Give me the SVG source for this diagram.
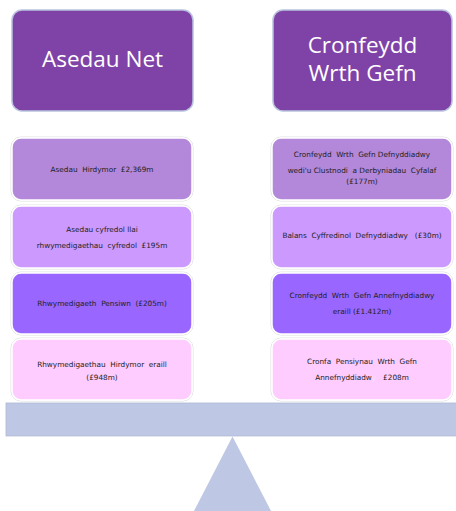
<svg xmlns="http://www.w3.org/2000/svg" width="456" height="511" viewBox="0 0 456 511">
<style>
.hd{fill:#7F43A7;stroke:#B9C3DE;stroke-width:1.5}
.ht{font-family:"Open Sans","Liberation Sans",sans-serif;font-size:22.5px;fill:#ffffff;text-anchor:middle}
.bx{stroke:#ffffff;stroke-width:1.5}
.bo{fill:none;stroke:#d8d8d8;stroke-width:0.8}
.c1{fill:#B387D9}
.c2{fill:#CC99FF}
.c3{fill:#9966FF}
.c4{fill:#FFCCFF}
.st{font-family:"DejaVu Sans","Liberation Sans",sans-serif;font-size:7.3px;fill:#222222;text-anchor:middle;white-space:pre}
</style>
<rect width="456" height="511" fill="#ffffff"/>
<g id="head-left"><rect class="hd" x="12" y="10" width="181" height="101" rx="10"/><text class="ht" x="102.5" y="67">Asedau Net</text></g>
<g id="head-right"><rect class="hd" x="273" y="10" width="179" height="101" rx="10"/><text class="ht" x="362.5" y="53">Cronfeydd</text><text class="ht" x="362.5" y="81">Wrth Gefn</text></g>

<g id="l1"><rect class="bo" x="11" y="137" width="182" height="64" rx="10"/><rect class="bx c1" x="12" y="138" width="180" height="62" rx="9"/><text class="st" x="102" y="172">Asedau  Hirdymor  £2,369m</text></g>
<g id="l2"><rect class="bo" x="11" y="205" width="182" height="64" rx="10"/><rect class="bx c2" x="12" y="206" width="180" height="62" rx="9"/><text class="st" x="102" y="232">Asedau cyfredol llai</text><text class="st" x="102" y="248">rhwymedigaethau  cyfredol  £195m</text></g>
<g id="l3"><rect class="bo" x="11" y="272" width="182" height="63" rx="10"/><rect class="bx c3" x="12" y="273" width="180" height="61" rx="9"/><text class="st" x="102" y="306">Rhwymedigaeth  Pensiwn  (£205m)</text></g>
<g id="l4"><rect class="bo" x="11" y="338" width="182" height="63" rx="10"/><rect class="bx c4" x="12" y="339" width="180" height="61" rx="9"/><text class="st" x="102" y="367">Rhwymedigaethau  Hirdymor  eraill</text><text class="st" x="102" y="380">(£948m)</text></g>

<g id="r1"><rect class="bo" x="271" y="137" width="182" height="64" rx="10"/><rect class="bx c1" x="272" y="138" width="180" height="62" rx="9"/><text class="st" x="362" y="157">Cronfeydd  Wrth  Gefn Defnyddiadwy</text><text class="st" x="362" y="173">wedi'u Clustnodi  a Derbyniadau  Cyfalaf</text><text class="st" x="362" y="184">(£177m)</text></g>
<g id="r2"><rect class="bo" x="271" y="205" width="182" height="64" rx="10"/><rect class="bx c2" x="272" y="206" width="180" height="62" rx="9"/><text class="st" x="362" y="238">Balans  Cyffredinol  Defnyddiadwy   (£30m)</text></g>
<g id="r3"><rect class="bo" x="271" y="272" width="182" height="63" rx="10"/><rect class="bx c3" x="272" y="273" width="180" height="61" rx="9"/><text class="st" x="362" y="298">Cronfeydd  Wrth  Gefn Annefnyddiadwy</text><text class="st" x="362" y="314">eraill (£1.412m)</text></g>
<g id="r4"><rect class="bo" x="271" y="338" width="182" height="63" rx="10"/><rect class="bx c4" x="272" y="339" width="180" height="61" rx="9"/><text class="st" x="362" y="364">Cronfa  Pensiynau  Wrth  Gefn</text><text class="st" x="362" y="380">Annefnyddiadw<tspan fill="#f4e4f4">y</tspan>   £208m</text></g>

<g id="beam"><rect x="6" y="403" width="452" height="33" fill="#BEC7E3" stroke="#AEB8D6" stroke-width="0.8"/><line x1="6" y1="436.5" x2="456" y2="436.5" stroke="#e4e6ee" stroke-width="1"/></g>
<g id="fulcrum"><polygon points="232.5,436.5 194,511 271,511" fill="#BEC7E3"/></g>
</svg>
